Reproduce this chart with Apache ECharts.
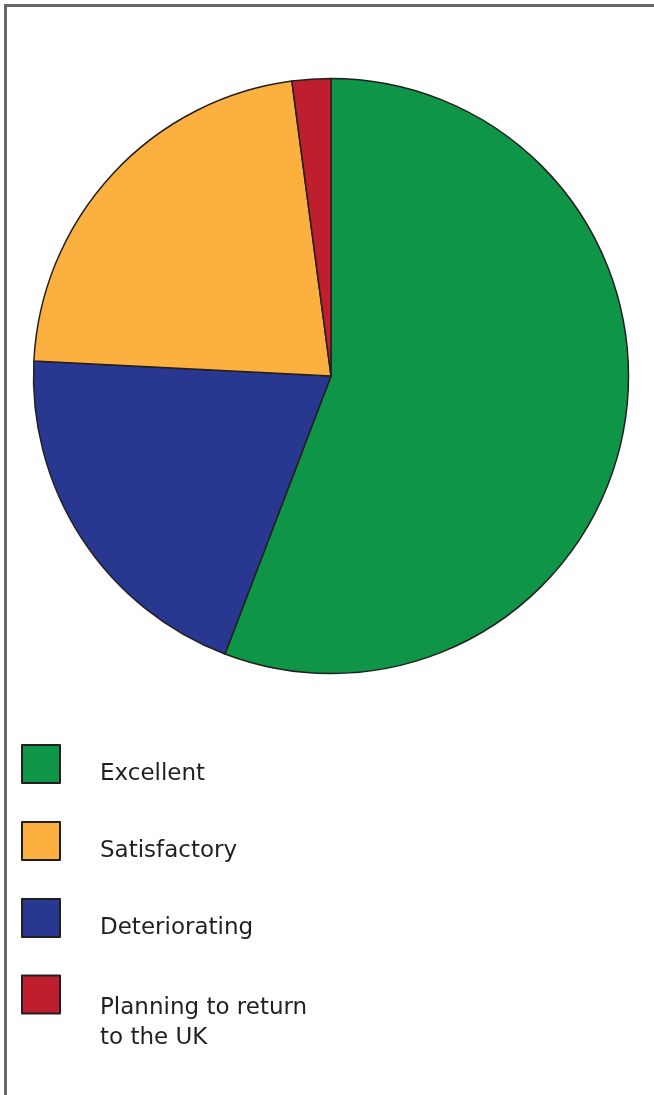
<!DOCTYPE html>
<html>
<head>
<meta charset="utf-8">
<script src="https://cdn.jsdelivr.net/npm/echarts@6/dist/echarts.min.js"></script>
<style>
html,body{margin:0;padding:0;background:#fff;}
#chart{width:654px;height:1095px;}
</style>
</head>
<body>
<div id="chart"></div>
<script>
// Data (clockwise from 12 o'clock, as drawn)
const sliceNames = ['Excellent', 'Deteriorating', 'Satisfactory', 'Planning to return\nto the UK'];
const sliceValues = [55.8, 20.0, 22.1, 2.1];
const sliceColors = ['#0f9547', '#283891', '#fbb040', '#be1e2d'];
// Legend order
const legendOrder = ['Excellent', 'Satisfactory', 'Deteriorating', 'Planning to return\nto the UK'];

const chart = echarts.init(document.getElementById('chart'), null, {renderer: 'canvas'});

const legendTops = [744, 821, 898, 962.5];
const legends = legendOrder.map((name, i) => {
  const multi = name.indexOf('\n') >= 0;
  return {
    orient: 'vertical',
    left: 21,
    top: legendTops[i],
    padding: 0,
    itemWidth: 38,
    itemHeight: 38,
    icon: 'rect',
    selectedMode: false,
    data: [name],
    formatter: n => '{s| }\n' + n.split('\n').map(l => '{t|' + l + '}').join('\n'),
    textStyle: {
      padding: [0, 0, 0, 35],
      rich: {
        s: {fontSize: 4, lineHeight: multi ? 58 : 21},
        t: {fontFamily: 'DejaVu Sans', fontSize: 23, color: '#231f20', lineHeight: 30}
      }
    }
  };
});

chart.setOption({
  animation: false,
  backgroundColor: '#ffffff',
  graphic: [{
    type: 'polyline',
    shape: {points: [[5.5, 1095], [5.5, 5.5], [654, 5.5]]},
    style: {stroke: '#686868', lineWidth: 3, fill: null},
    silent: true
  }],
  legend: legends,
  series: [{
    type: 'pie',
    center: [331, 376],
    radius: [0, 297.5],
    startAngle: 90,
    clockwise: true,
    label: {show: false},
    labelLine: {show: false},
    emphasis: {disabled: true},
    itemStyle: {borderColor: '#231f20', borderWidth: 1.5},
    data: sliceNames.map((n, i) => ({name: n, value: sliceValues[i], itemStyle: {color: sliceColors[i]}}))
  }]
});
</script>
</body>
</html>
